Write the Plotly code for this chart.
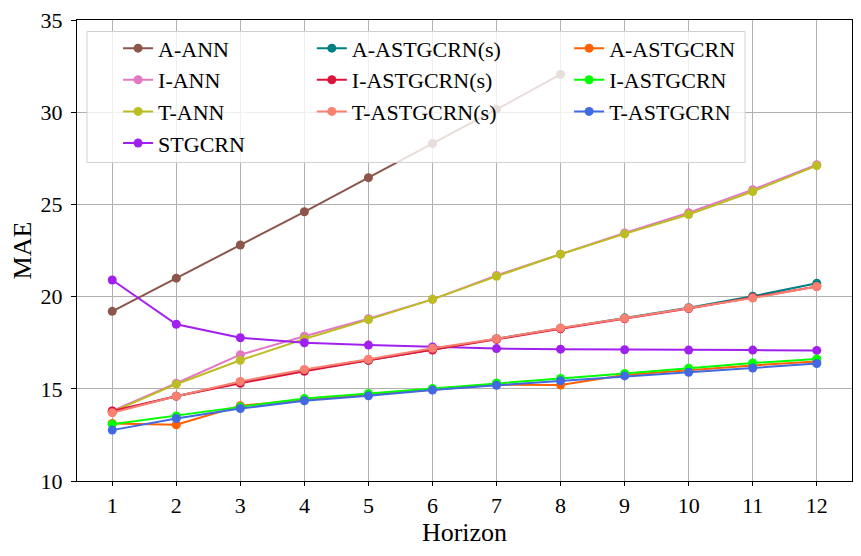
import plotly.graph_objects as go

# horizon steps
horizon = list(range(1, 13))

# MAE per model
a_ann = [19.2, 21.0, 22.8, 24.6, 26.45, 28.3, 30.15, 32.05]
i_ann = [13.8, 15.3, 16.85, 17.85, 18.8, 19.85, 21.15, 22.3, 23.45, 24.55, 25.8, 27.15]
t_ann = [13.75, 15.25, 16.55, 17.7, 18.75, 19.85, 21.1, 22.3, 23.4, 24.45, 25.7, 27.1]
stgcrn = [20.9, 18.5, 17.77, 17.5, 17.37, 17.27, 17.18, 17.15, 17.12, 17.1, 17.1, 17.08]
a_astgcrn_s = [13.75, 14.6, 15.35, 16.0, 16.55, 17.15, 17.72, 18.28, 18.85, 19.4, 20.02, 20.72]
i_astgcrn_s = [13.8, 14.6, 15.3, 15.95, 16.55, 17.1, 17.68, 18.25, 18.8, 19.35, 19.95, 20.55]
t_astgcrn_s = [13.7, 14.6, 15.4, 16.05, 16.6, 17.2, 17.72, 18.3, 18.82, 19.38, 19.92, 20.55]
a_astgcrn = [13.12, 13.05, 14.08, 14.42, 14.68, 14.95, 15.22, 15.2, 15.75, 16.0, 16.27, 16.48]
i_astgcrn = [13.08, 13.53, 14.02, 14.47, 14.75, 15.02, 15.32, 15.56, 15.83, 16.12, 16.4, 16.62]
t_astgcrn = [12.76, 13.39, 13.93, 14.35, 14.62, 14.93, 15.19, 15.43, 15.7, 15.9, 16.13, 16.37]

# (name, values, colour, legend) in legend column order
series = [
    ("A-ANN", a_ann, "#8c564b", "legend"),
    ("I-ANN", i_ann, "#e377c2", "legend"),
    ("T-ANN", t_ann, "#bcbd22", "legend"),
    ("STGCRN", stgcrn, "#a020f0", "legend"),
    ("A-ASTGCRN(s)", a_astgcrn_s, "#008080", "legend2"),
    ("I-ASTGCRN(s)", i_astgcrn_s, "#dc143c", "legend2"),
    ("T-ASTGCRN(s)", t_astgcrn_s, "#fa8072", "legend2"),
    ("A-ASTGCRN", a_astgcrn, "#ff6000", "legend3"),
    ("I-ASTGCRN", i_astgcrn, "#00ff00", "legend3"),
    ("T-ASTGCRN", t_astgcrn, "#4169e1", "legend3"),
]

fig = go.Figure()
for name, vals, col, leg in series:
    fig.add_trace(go.Scatter(x=horizon[:len(vals)], y=vals, name=name,
                             mode="lines+markers", legend=leg, legendgroup=name,
                             line=dict(color=col, width=2),
                             marker=dict(color=col, size=9)))

font = "Liberation Serif, Times New Roman, serif"
leg_style = dict(bgcolor="rgba(0,0,0,0)", font=dict(family=font, size=22, color="black"),
                 xanchor="left", yanchor="top", y=0.984, tracegroupgap=0, itemwidth=30)

# the page adds an 8px body margin, so margins are shifted to compensate
fig.update_layout(
    width=861, height=556,
    margin=dict(l=69, r=17, t=11.5, b=83),
    plot_bgcolor="white", paper_bgcolor="white",
    font=dict(family=font, color="black"),
    legend=dict(x=0.053, **leg_style),
    legend2=dict(x=0.303, **leg_style),
    legend3=dict(x=0.635, **leg_style),
    shapes=[dict(type="rect", xref="paper", yref="paper", layer="above",
                 x0=0.0129, x1=0.862, y0=0.691, y1=0.975,
                 fillcolor="rgba(255,255,255,0.8)", line=dict(color="#d0d0d0", width=1))],
)
fig.update_xaxes(range=[0.45, 12.55], tickvals=horizon, ticks="outside", ticklen=4,
                 tickcolor="black", showgrid=True, automargin=False,
                 gridcolor="#b0b0b0", gridwidth=1, showline=True, linecolor="black",
                 linewidth=1.3, mirror=True, zeroline=False, ticklabeloverflow="allow",
                 tickfont=dict(size=22), title=dict(text="Horizon", font=dict(size=26), standoff=6))
fig.update_yaxes(range=[10, 35], dtick=5, ticks="outside", ticklen=5, tickcolor="black",
                 showgrid=True, gridcolor="#b0b0b0", gridwidth=1, showline=True, automargin=False,
                 linecolor="black", linewidth=1.3, mirror=True, zeroline=False,
                 ticklabelstandoff=4, ticklabeloverflow="allow",
                 tickfont=dict(size=22), title=dict(text="MAE", font=dict(size=26), standoff=2))

fig.write_html("out.html")
